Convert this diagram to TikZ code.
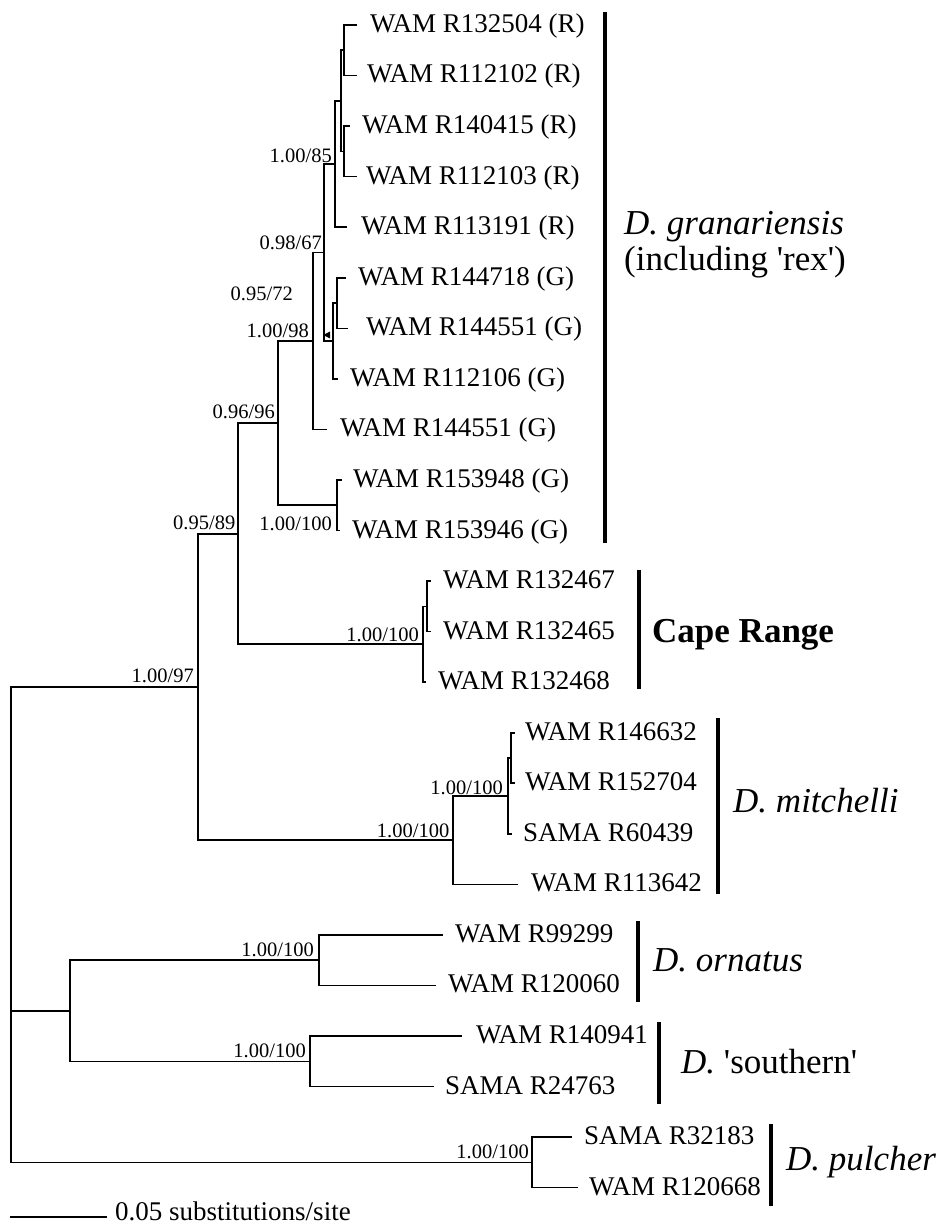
\documentclass[tikz,border=0pt]{standalone}
\usepackage{fontspec}
\setmainfont{Liberation Serif}[Ligatures=TeXOff]
\newcommand{\tipfnt}{\fontsize{27}{32}\selectfont}
\newcommand{\supfnt}{\fontsize{20.5}{24}\selectfont}
\newcommand{\cladefnt}{\fontsize{35}{40}\selectfont}
\begin{document}
\begin{tikzpicture}[x=1pt,y=-1pt,
  br/.style={line width=1.6pt, line join=miter},
  cbar/.style={line width=3.2pt},
  tip/.style={anchor=base west, inner sep=0pt, font=\tipfnt},
  sup/.style={anchor=base east, inner sep=0pt, font=\supfnt},
  clade/.style={anchor=base west, inner sep=0pt, font=\cladefnt}]
\useasboundingbox (0,0) rectangle (942,1225);
% ---- tip ends
\coordinate (t0) at (357,25);
\coordinate (t1) at (357,75.55);
\coordinate (t2) at (350,126.1);
\coordinate (t3) at (357,176.65);
\coordinate (t4) at (347,227.2);
\coordinate (t5) at (346,277.75);
\coordinate (t6) at (348,328.3);
\coordinate (t7) at (338,378.85);
\coordinate (t8) at (327,429.4);
\coordinate (t9) at (342,479.95);
\coordinate (t10) at (340,530.5);
\coordinate (t11) at (431,581.05);
\coordinate (t12) at (431,631.6);
\coordinate (t13) at (426,682.15);
\coordinate (t14) at (515,732.7);
\coordinate (t15) at (515,783.25);
\coordinate (t16) at (512,833.8);
\coordinate (t17) at (518,884.35);
\coordinate (t18) at (443,934.9);
\coordinate (t19) at (436,985.45);
\coordinate (t20) at (462,1036);
\coordinate (t21) at (434,1086.55);
\coordinate (t22) at (572,1137.1);
\coordinate (t23) at (578,1187.65);
% ---- internal nodes
\coordinate (nA) at (344,50.3);
\coordinate (nB) at (344,151.4);
\coordinate (nAB) at (341,100.85);
\coordinate (nABC) at (335,164);
\coordinate (nE1) at (337,303);
\coordinate (nE) at (333,341);
\coordinate (nD) at (324,252.5);
\coordinate (nF) at (313,341);
\coordinate (nH) at (337,505.2);
\coordinate (nG) at (278,423.1);
\coordinate (nCR1) at (427,606.3);
\coordinate (nCR) at (423,644.2);
\coordinate (nI) at (238,533.7);
\coordinate (nM1) at (511,758);
\coordinate (nM2) at (508,795.9);
\coordinate (nM3) at (453,840.1);
\coordinate (nJ) at (198,686.9);
\coordinate (nO) at (319,960.2);
\coordinate (nS) at (310,1061.3);
\coordinate (nK) at (70,1010.7);
\coordinate (nP) at (532,1162.4);
\coordinate (nR) at (11,1010.7);
% ---- branches
\draw[br] (nA) |- (t0);  \draw[br] (nA) |- (t1);
\draw[br] (nB) |- (t2);  \draw[br] (nB) |- (t3);
\draw[br] (nAB) |- (nA); \draw[br] (nAB) |- (nB);
\draw[br] (nABC) |- (nAB); \draw[br] (nABC) |- (t4);
\draw[br] (nE1) |- (t5); \draw[br] (nE1) |- (t6);
\draw[br] (nE) |- (nE1); \draw[br] (nE) |- (t7);
\draw[br] (nD) |- (nABC); \draw[br] (nD) |- (nE);
\draw[br] (nF) |- (nD); \draw[br] (nF) |- (t8);
\draw[br] (nH) |- (t9); \draw[br] (nH) |- (t10);
\draw[br] (nG) |- (nF); \draw[br] (nG) |- (nH);
\draw[br] (nCR1) |- (t11); \draw[br] (nCR1) |- (t12);
\draw[br] (nCR) |- (nCR1); \draw[br] (nCR) |- (t13);
\draw[br] (nI) |- (nG); \draw[br] (nI) |- (nCR);
\draw[br] (nM1) |- (t14); \draw[br] (nM1) |- (t15);
\draw[br] (nM2) |- (nM1); \draw[br] (nM2) |- (t16);
\draw[br] (nM3) |- (nM2); \draw[br] (nM3) |- (t17);
\draw[br] (nJ) |- (nI); \draw[br] (nJ) |- (nM3);
\draw[br] (nO) |- (t18); \draw[br] (nO) |- (t19);
\draw[br] (nS) |- (t20); \draw[br] (nS) |- (t21);
\draw[br] (nK) |- (nO); \draw[br] (nK) |- (nS);
\draw[br] (nP) |- (t22); \draw[br] (nP) |- (t23);
\draw[br] (nR) |- (nJ); \draw[br] (nR) |- (nK); \draw[br] (nR) |- (nP);
\fill (323,335) -- (330,331.5) -- (330,338.5) -- cycle;
% ---- tip labels
\node[tip] (l0) at (370,32.5) {WAM R132504 (R)};
\node[tip] (l1) at (367,83) {WAM R112102 (R)};
\node[tip] (l2) at (362,133.6) {WAM R140415 (R)};
\node[tip] (l3) at (366,184.1) {WAM R112103 (R)};
\node[tip] (l4) at (361,234.7) {WAM R113191 (R)};
\node[tip] (l5) at (358,285.2) {WAM R144718 (G)};
\node[tip] (l6) at (366,335.8) {WAM R144551 (G)};
\node[tip] (l7) at (350,386.3) {WAM R112106 (G)};
\node[tip] (l8) at (340,436.9) {WAM R144551 (G)};
\node[tip] (l9) at (353,487.4) {WAM R153948 (G)};
\node[tip] (l10) at (352,538) {WAM R153946 (G)};
\node[tip] (l11) at (443,588.5) {WAM R132467};
\node[tip] (l12) at (443,639.1) {WAM R132465};
\node[tip] (l13) at (438,689.6) {WAM R132468};
\node[tip] (l14) at (525,740.2) {WAM R146632};
\node[tip] (l15) at (525,790.7) {WAM R152704};
\node[tip] (l16) at (523,841.3) {SAMA R60439};
\node[tip] (l17) at (531,891.8) {WAM R113642};
\node[tip] (l18) at (455,942.4) {WAM R99299};
\node[tip] (l19) at (448,992.9) {WAM R120060};
\node[tip] (l20) at (476,1043.5) {WAM R140941};
\node[tip] (l21) at (445,1094) {SAMA R24763};
\node[tip] (l22) at (584,1144.6) {SAMA R32183};
\node[tip] (l23) at (589,1195.1) {WAM R120668};
% ---- support values
\node[sup] (s1) at ([xshift=-3pt,yshift=1pt]nABC) {1.00/85};
\node[sup] (s2) at ([xshift=-2pt,yshift=3pt]nD) {0.98/67};
\node[sup] (s3) at (293,300) {0.95/72};
\node[sup] (s4) at ([xshift=-4pt,yshift=4pt]nF) {1.00/98};
\node[sup] (s5) at ([xshift=-3pt,yshift=4.5pt]nG) {0.96/96};
\node[sup] (s6) at (332,530) {1.00/100};
\node[sup] (s7) at ([xshift=-2.5pt,yshift=4pt]nI) {0.95/89};
\node[sup] (s8) at ([xshift=-4pt,yshift=2.5pt]nCR) {1.00/100};
\node[sup] (s9) at ([xshift=-4pt,yshift=4pt]nJ) {1.00/97};
\node[sup] (s10) at ([xshift=-5pt,yshift=1.5pt]nM2) {1.00/100};
\node[sup] (s11) at ([xshift=-3.5pt,yshift=2.5pt]nM3) {1.00/100};
\node[sup] (s12) at ([xshift=-5pt,yshift=3.5pt]nO) {1.00/100};
\node[sup] (s13) at ([xshift=-4pt,yshift=3.5pt]nS) {1.00/100};
\node[sup] (s14) at ([xshift=-3pt,yshift=4pt]nP) {1.00/100};
% ---- clade bars
\coordinate (g1) at (605,12);   \coordinate (g2) at (605,543);
\coordinate (c1) at (639,570);  \coordinate (c2) at (639,689);
\coordinate (m1) at (718,718);  \coordinate (m2) at (718,894);
\coordinate (o1) at (638,921);  \coordinate (o2) at (638,1002);
\coordinate (so1) at (659,1022); \coordinate (so2) at (659,1104);
\coordinate (p1) at (771,1124); \coordinate (p2) at (771,1206);
\draw[cbar] (g1) -- (g2);
\draw[cbar] (c1) -- (c2);
\draw[cbar] (m1) -- (m2);
\draw[cbar] (o1) -- (o2);
\draw[cbar] (so1) -- (so2);
\draw[cbar] (p1) -- (p2);
% ---- clade names
\node[clade] (cg1) at (624,234) {\textit{D. granariensis}};
\node[clade] (cg2) at (624,270) {(including 'rex')};
\node[clade] (ccr) at (652,642) {\textbf{Cape Range}};
\node[clade] (cm) at (733,812) {\textit{D. mitchelli}};
\node[clade] (co) at (653,971) {\textit{D. ornatus}};
\node[clade] (cs) at (681,1073) {\textit{D.} 'southern'};
\node[clade] (cp) at (786,1170) {\textit{D. pulcher}};
% ---- scale bar
\coordinate (sb1) at (10,1217); \coordinate (sb2) at (107,1217);
\draw[br] (sb1) -- (sb2);
\node[tip] (sbl) at (115,1220) {0.05 substitutions/site};
\end{tikzpicture}
\end{document}
